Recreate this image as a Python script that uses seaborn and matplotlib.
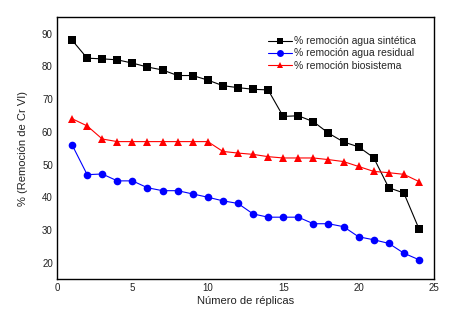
import numpy as np
import pandas as pd
import seaborn as sns
import matplotlib.pyplot as plt

replicas = list(range(1, 25))
sintetica = [88.0, 82.5, 82.3, 82.0, 81.0, 79.8, 78.9, 77.2, 77.2, 75.8, 74.1, 73.5,
             73.0, 72.8, 64.7, 64.9, 63.1, 59.6, 56.9, 55.4, 52.1, 42.9, 41.3, 30.4]
residual = [56.0, 46.9, 47.1, 45.0, 45.0, 42.9, 42.0, 42.0, 41.0, 40.0, 38.9, 38.1,
            34.9, 33.9, 33.9, 33.9, 31.9, 31.9, 31.0, 27.9, 27.0, 25.9, 22.9, 20.9]
biosistema = [64.0, 61.8, 57.8, 57.0, 57.0, 57.0, 57.0, 57.0, 57.0, 57.0, 54.0, 53.5,
              53.1, 52.4, 52.0, 52.0, 52.0, 51.5, 50.9, 49.4, 47.9, 47.5, 47.0, 44.8]

series = ['% remoción agua sintética', '% remoción agua residual', '% remoción biosistema']
colores = ['black', '#0000ff', '#ff0000']
marcadores = ['s', 'o', '^']

df = pd.DataFrame({
    'replica': replicas * 3,
    'valor': sintetica + residual + biosistema,
    'serie': [series[0]] * 24 + [series[1]] * 24 + [series[2]] * 24,
})

sns.set_style('white')
plt.rcParams['font.family'] = ['Liberation Sans', 'DejaVu Sans']

fig = plt.figure(figsize=(4.5, 3.18), dpi=100)
ax = fig.add_axes([0.1267, 0.1226, 0.8377, 0.8230])

sns.lineplot(data=df, x='replica', y='valor', hue='serie', style='serie',
             palette=dict(zip(series, colores)), markers=dict(zip(series, marcadores)),
             dashes=False, linewidth=0.8, markersize=5.5, markeredgewidth=0,
             ax=ax, legend=False)

ax.set_xlim(0, 25)
ax.set_ylim(15, 95)
ax.set_xticks([0, 5, 10, 15, 20, 25])
ax.set_yticks([20, 30, 40, 50, 60, 70, 80, 90])
ax.tick_params(length=0, pad=3, labelsize=7, colors='#222222')
for s in ax.spines.values():
    s.set_color('black')
    s.set_linewidth(1)
ax.set_xlabel('Número de réplicas', fontsize=8, labelpad=2, color='#222222')
ax.set_ylabel('% (Remoción de Cr VI)', fontsize=8, labelpad=10, color='#222222')

handles = [plt.Line2D([], [], color=c, marker=m, markersize=5, linewidth=0.8, markeredgewidth=0)
           for c, m in zip(colores, marcadores)]
ax.legend(handles, series, loc='upper left', bbox_to_anchor=(0.56, 0.927), frameon=False,
          fontsize=7.5, handlelength=2.3, handletextpad=0.2, labelspacing=0.2,
          borderaxespad=0, borderpad=0)

fig.savefig('out.png', dpi=100)
